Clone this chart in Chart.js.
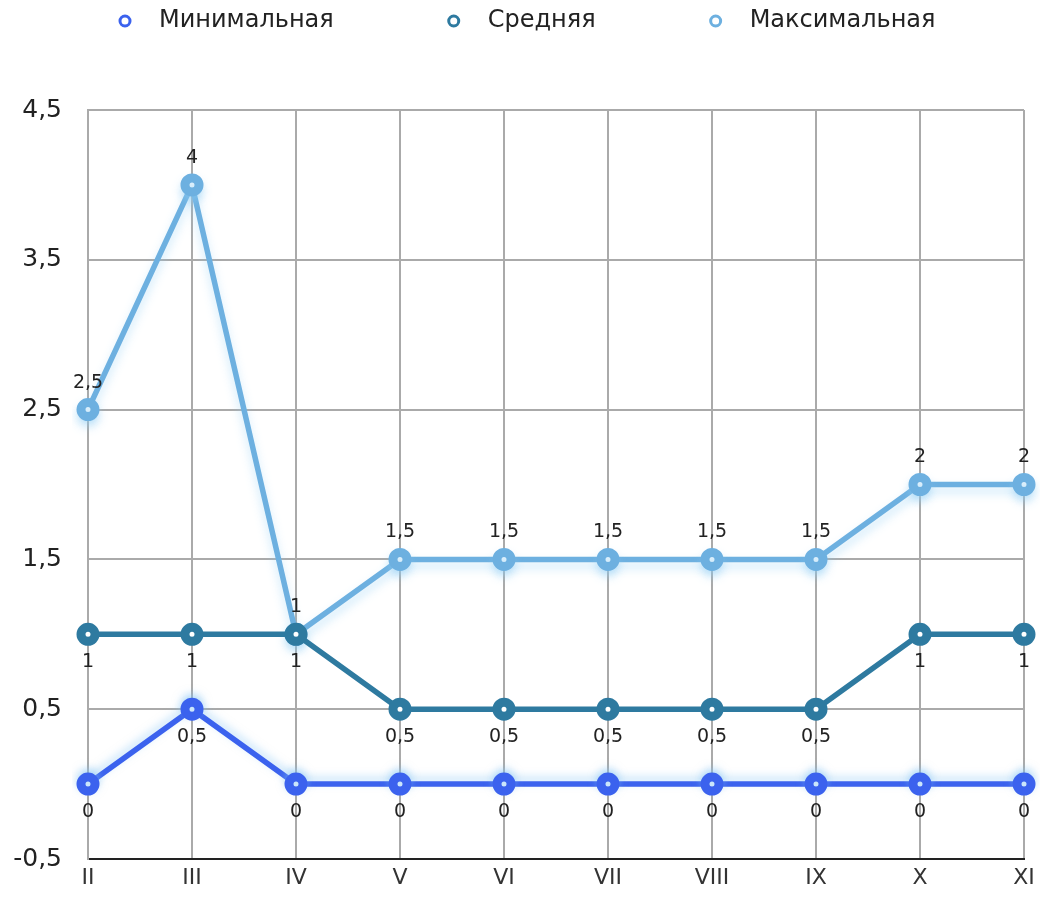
<!DOCTYPE html>
<html>
<head>
<meta charset="utf-8">
<script src="https://cdn.jsdelivr.net/npm/chart.js@4.4.1/dist/chart.umd.min.js"></script>
<style>
body{margin:0;background:#fff;}
#wrap{width:1040px;height:900px;position:relative;}
</style>
</head>
<body>
<div id="wrap"><canvas id="chart"></canvas></div>
<script>

/* ================= DATA ================= */

let months = ["II","III","IV","V","VI","VII","VIII","IX","X","XI"];
let minValues = [0,0.5,0,0,0,0,0,0,0,0];
let avgValues = [1,1,1,0.5,0.5,0.5,0.5,0.5,1,1];
let maxValues = [2.5,4,1,1.5,1.5,1.5,1.5,1.5,2,2];
let yTicks = [-0.5,0.5,1.5,2.5,3.5,4.5];

let seriesNames = ["Минимальная","Средняя","Максимальная"];
let colors = ["#3b62ee","#2e7aa0","#6db0e0"];

function fmt(v){
return String(v).replace(".",",");
}

/* ================= PLUGINS ================= */

// soft glow under the min / max lines
let glowPlugin = {
id:"glow",
beforeDatasetDraw(chart,args){
let g = chart.data.datasets[args.index].glow;
if(!g) return;
let ctx = chart.ctx;
ctx.save();
ctx.shadowColor = g.color;
ctx.shadowBlur = g.blur;
ctx.shadowOffsetY = g.y;
},
afterDatasetDraw(chart,args){
if(!chart.data.datasets[args.index].glow) return;
chart.ctx.restore();
}
};

// value labels above or below each point
let valueLabels = {
id:"valueLabels",
afterDatasetsDraw(chart){
let ctx = chart.ctx;
ctx.save();
ctx.font = "19px 'DejaVu Sans'";
ctx.fillStyle = "#222";
ctx.textAlign = "center";
ctx.textBaseline = "middle";
chart.data.datasets.forEach((ds,i)=>{
let meta = chart.getDatasetMeta(i);
meta.data.forEach((pt,j)=>{
let dy = ds.labelSide === "top" ? -27 : 28;
ctx.fillText(fmt(ds.data[j]),pt.x,pt.y+dy);
});
});
ctx.restore();
}
};

// legend row: ring marker + name, wide spacing
let topLegend = {
id:"topLegend",
afterDraw(chart){
let ctx = chart.ctx;
ctx.save();
ctx.font = "24px 'DejaVu Sans'";
ctx.textBaseline = "middle";
ctx.textAlign = "left";
let x = 125;
let y = 21;
chart.data.datasets.forEach(ds=>{
ctx.beginPath();
ctx.arc(x,y,5,0,Math.PI*2);
ctx.fillStyle = "#fff";
ctx.fill();
ctx.lineWidth = 3;
ctx.strokeStyle = ds.borderColor;
ctx.stroke();
ctx.fillStyle = "#222";
ctx.fillText(ds.label,x+34,y);
x += 34 + ctx.measureText(ds.label).width + 120;
});
ctx.restore();
}
};

/* ================= CHART ================= */

function makeSet(i,data,side,glow){
return {
label:seriesNames[i],
data:data,
borderColor:colors[i],
backgroundColor:"#fff",
borderWidth:5.5,
pointRadius:7,
pointBorderWidth:9,
pointBackgroundColor:"#fff",
pointBorderColor:colors[i],
pointHoverRadius:7,
tension:0,
labelSide:side,
glow:glow
};
}

Chart.defaults.font.family = "'DejaVu Sans'";
Chart.defaults.color = "#222";

new Chart(document.getElementById("chart"),{
type:"line",
data:{
labels:months,
datasets:[
makeSet(0,minValues,"bottom",{color:"rgba(130,195,245,0.5)",blur:8,y:-4}),
makeSet(1,avgValues,"bottom",null),
makeSet(2,maxValues,"top",{color:"rgba(140,205,245,0.45)",blur:10,y:6})
]
},
options:{
responsive:true,
maintainAspectRatio:false,
animation:false,
layout:{padding:{left:0,right:0,top:110,bottom:0}},
plugins:{
tooltip:{enabled:false},
legend:{display:false}
},
scales:{
x:{
offset:false,
afterFit(axis){
axis.paddingRight = 15;
},
grid:{color:"#aaa",lineWidth:2,drawTicks:false},
border:{color:"#222",width:2},
ticks:{font:{size:22},color:"#333",padding:6,maxRotation:0}
},
y:{
min:-0.5,
max:4.5,
afterFit(axis){ axis.width = 88; },
afterBuildTicks(axis){
axis.ticks = yTicks.map(v=>({value:v}));
},
grid:{color:"#aaa",lineWidth:2,drawTicks:false},
border:{color:"#aaa",width:2},
ticks:{font:{size:25},color:"#222",padding:26,callback:v=>fmt(v)}
}
}
},
plugins:[glowPlugin,valueLabels,topLegend]
});

</script>
</body>
</html>
